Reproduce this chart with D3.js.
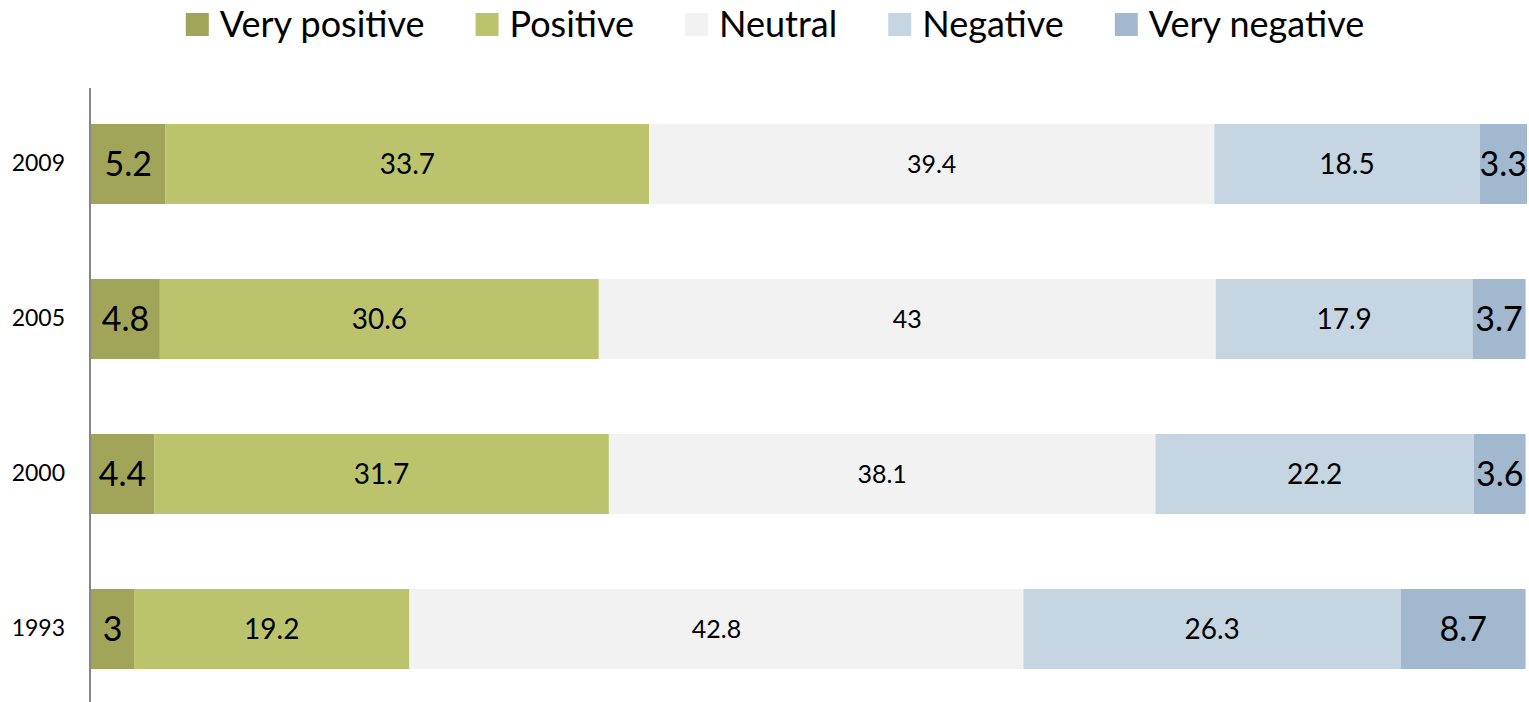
<!DOCTYPE html>
<html>
<head>
<meta charset="utf-8">
<script src="https://cdn.jsdelivr.net/npm/d3@7"></script>
<style>
  html, body { margin: 0; padding: 0; background: #fff; }
  svg { display: block; font-family: Lato, "Open Sans", sans-serif; }
</style>
</head>
<body>
<div id="chart"></div>
<script>
// Survey years, top to bottom
const years = ["2009", "2005", "2000", "1993"];
const categories = ["Very positive", "Positive", "Neutral", "Negative", "Very negative"];
const colors = ["#a0a55a", "#bbc46c", "#f2f2f2", "#c5d5e2", "#a1b8cf"];

// shares per category, in the order of years
const veryPositive = [5.2, 4.8, 4.4, 3];
const positive = [33.7, 30.6, 31.7, 19.2];
const neutral = [39.4, 43, 38.1, 42.8];
const negative = [18.5, 17.9, 22.2, 26.3];
const veryNegative = [3.3, 3.7, 3.6, 8.7];

// label size by category: thin end segments get the big text
const labelSizes = [34, 28, 25, 28, 34];

const width = 1529, height = 702;
const series = [veryPositive, positive, neutral, negative, veryNegative];

const rows = years.map((y, i) => {
    const row = { year: y };
    categories.forEach((c, k) => { row[c] = series[k][i]; });
    return row;
});

const stack = d3.stack().keys(categories);
const stacked = stack(rows);

const svg = d3.select("#chart").append("svg")
    .attr("width", width)
    .attr("height", height);

const x = d3.scaleLinear()
    .domain([0, d3.max(rows, r => d3.sum(categories, c => r[c]))])
    .range([91, 1527]);

const y = d3.scaleBand()
    .domain(years)
    .range([86.5, 706.5])
    .paddingInner(0.484)
    .paddingOuter(0.242);

const layers = svg.selectAll(".layer")
    .data(stacked)
    .enter().append("g")
    .attr("class", "layer")
    .attr("fill", (d, i) => colors[i]);

layers.selectAll("rect")
    .data(d => d)
    .enter().append("rect")
    .attr("x", d => x(d[0]))
    .attr("y", d => y(d.data.year))
    .attr("width", d => x(d[1]) - x(d[0]))
    .attr("height", y.bandwidth());

// value labels centred in each segment
stacked.forEach((layer, k) => {
    svg.append("g")
        .selectAll("text")
        .data(layer)
        .enter().append("text")
        .attr("x", d => (x(d[0]) + x(d[1])) / 2)
        .attr("y", d => y(d.data.year) + y.bandwidth() / 2)
        .attr("dy", "0.36em")
        .attr("text-anchor", "middle")
        .attr("font-size", labelSizes[k])
        .attr("fill", "#000")
        .text(d => d.data[layer.key]);
});

// y axis: plain vertical line with year labels, no ticks
const yAxis = svg.append("g")
    .attr("transform", "translate(90,0)")
    .call(d3.axisLeft(y).tickSize(0).tickPadding(25));
yAxis.select(".domain").attr("stroke", "#868686").attr("stroke-width", 2)
    .attr("d", "M0,88V702");
yAxis.selectAll("text")
    .attr("font-family", "Lato, 'Open Sans', sans-serif")
    .attr("font-size", 23)
    .attr("fill", "#000");

// legend across the top, centred
const legend = svg.append("g");
const items = legend.selectAll("g")
    .data(categories)
    .enter().append("g");
items.append("rect")
    .attr("width", 23).attr("height", 23)
    .attr("y", 13)
    .attr("fill", (d, i) => colors[i]);
items.append("text")
    .attr("x", 34)
    .attr("y", 37)
    .attr("font-size", 36)
    .attr("fill", "#000")
    .text(d => d);

let cursor = 0;
const offsets = [];
items.each(function() {
    const w = this.querySelector("text").getComputedTextLength();
    offsets.push(cursor);
    cursor += 34 + w + 51;
});
const total = cursor - 51;
const start = 775 - total / 2;
items.attr("transform", (d, i) => `translate(${start + offsets[i]},0)`);
</script>
</body>
</html>
